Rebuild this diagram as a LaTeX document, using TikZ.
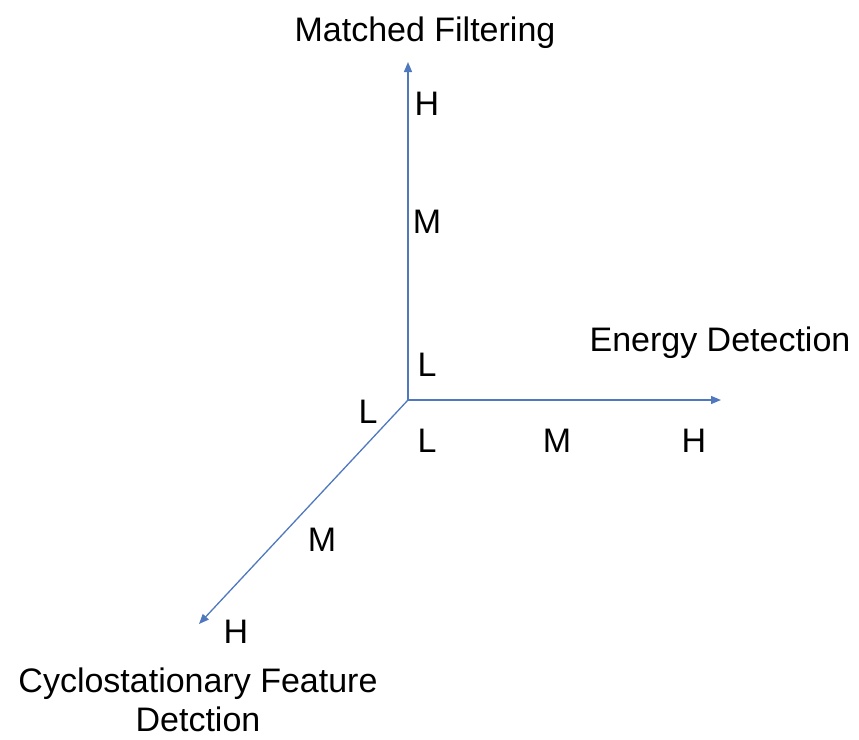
\documentclass[tikz,border=0pt]{standalone}
\usepackage{fontspec}
\setmainfont{Liberation Sans}
\usetikzlibrary{arrows.meta}
\definecolor{axisblue}{RGB}{80,120,190}
\begin{document}
\begin{tikzpicture}[x=1pt,y=-1pt,
  axis/.style={draw=axisblue,line width=1.3pt,-{Triangle[length=10pt,width=8pt]}},
  lbl/.style={font=\fontsize{34}{39}\selectfont,inner sep=0pt,align=center}]
\useasboundingbox (0,0) rectangle (859,739);
\coordinate (O) at (408,400);
\coordinate (ytip) at (408,62);
\coordinate (xtip) at (721,400);
\coordinate (ztip) at (199,624);
\draw[axis] (O) -- (ytip);
\draw[axis] (O) -- (xtip);
\draw[axis] (O) -- (ztip);
\node[lbl] (mf) at (425,33) {Matched Filtering};
\node[lbl] (ed) at (720,343) {Energy Detection};
\node[lbl] (cf) at (198,700) {Cyclostationary Feature\\Detction};
\node[lbl] (yH) at (427,104) {H};
\node[lbl] (yM) at (427,222) {M};
\node[lbl] (yL) at (427,365) {L};
\node[lbl] (xL) at (427,441) {L};
\node[lbl] (xM) at (557,441) {M};
\node[lbl] (xH) at (694,441) {H};
\node[lbl] (zL) at (368,412) {L};
\node[lbl] (zM) at (322,540) {M};
\node[lbl] (zH) at (236,632) {H};
\end{tikzpicture}
\end{document}
